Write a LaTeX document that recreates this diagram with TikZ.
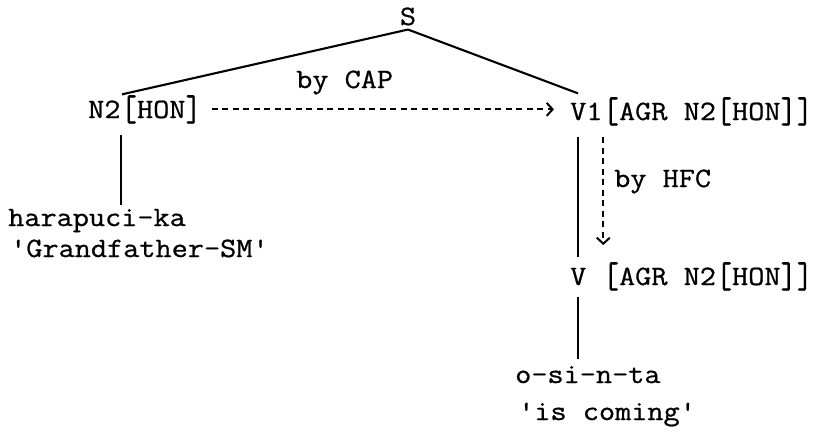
\documentclass[tikz,border=0pt]{standalone}
\usepackage{fontspec}
\setmonofont{Latin Modern Mono}[FakeStretch=1.12,FakeBold=0.8]
\usetikzlibrary{arrows.meta,calc}
\newcommand{\lbk}{\raisebox{-2.5pt}{\scalebox{1}[1.3]{[}}}
\newcommand{\rbk}{\raisebox{-2.5pt}{\scalebox{1}[1.3]{]}}}
\begin{document}
\begin{tikzpicture}[x=1pt,y=-1pt,
  lbl/.style={font=\ttfamily\fontsize{28}{32}\selectfont, inner sep=0pt, anchor=base west},
  tree/.style={line width=2.1pt},
  dep/.style={line width=2pt, dash pattern=on 6pt off 4.5pt,
    -{Straight Barb[length=6pt,width=13pt,line width=2pt]}}]
\useasboundingbox (0,0) rectangle (821,431);
% nodes
\node[lbl,anchor=base] (s) at (408,25) {S};
\node[lbl] (n2) at (88,118) {N2};
\node[lbl] (n2f) at (n2.base east) {\lbk HON\rbk};
\node[lbl] (v1) at (570,120) {V1};
\node[lbl] (v1f) at (v1.base east) {\lbk AGR N2\lbk HON\rbk\rbk};
\node[lbl] (v) at (570,285) {V};
\node[lbl] (vf) at (v.base east) {~\lbk AGR N2\lbk HON\rbk\rbk};
\node[lbl] (har) at (8,226) {harapuci-ka};
\node[lbl] (gf) at (10,257) {'Grandfather-SM'};
\node[lbl] (osi) at (515,383) {o-si-n-ta};
\node[lbl] (isc) at (518,420) {'is coming'};
\node[lbl] (cap) at (296,88) {by CAP};
\node[lbl] (hfc) at (614,187) {by HFC};
% tree lines
\draw[tree] ($(s.south)+(0,4)$) -- ($(n2.north west)+(34,-6)$);
\draw[tree] ($(s.south)+(0,4)$) -- ($(v1.north west)+(8,-9)$);
\draw[tree] ($(n2.south west)+(33,17)$) -- ($(har.north west)+(113,-4)$);
\draw[tree] ($(v1.south west)+(8,17)$) -- ($(v.north west)+(8,-11)$);
\draw[tree] ($(v.south west)+(8,12)$) -- ($(osi.north west)+(63,-7)$);
% dependencies
\draw[dep] ($(n2f.east)+(10,0)$) -- ($(n2f.east -| v1.west)+(-16,0)$);
\draw[dep] ($(v1.south east)+(0.6,17)$) -- ($(v1.south east |- vf.north)+(0.6,-17)$);
\end{tikzpicture}
\end{document}
